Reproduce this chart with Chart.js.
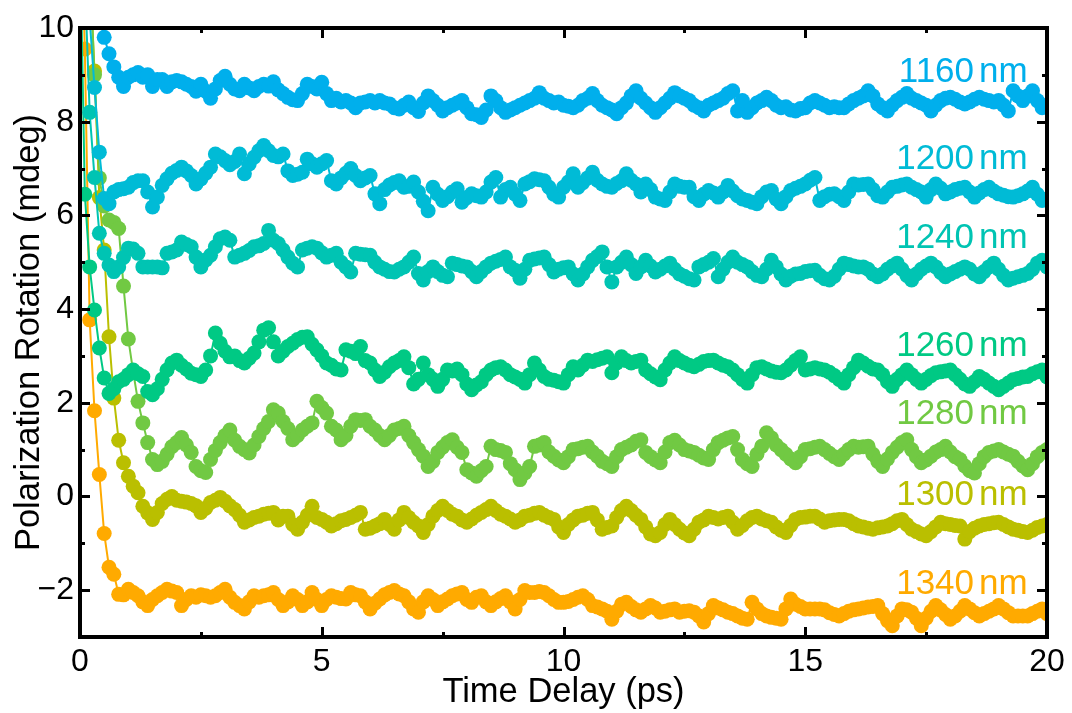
<!DOCTYPE html>
<html>
<head>
<meta charset="utf-8">
<script src="https://cdn.jsdelivr.net/npm/chart.js@4.4.1/dist/chart.umd.min.js"></script>
<style>
  html, body { margin: 0; padding: 0; background: #fff; }
  canvas { display: block; }
</style>
</head>
<body>
<canvas id="myChart" width="1072" height="713"></canvas>
<script>
// time delay in ps, one sample every 0.1 ps
const delay = [
  0, 0.1, 0.2, 0.3, 0.4, 0.5, 0.6, 0.7, 0.8, 0.9,
  1, 1.1, 1.2, 1.3, 1.4, 1.5, 1.6, 1.7, 1.8, 1.9,
  2, 2.1, 2.2, 2.3, 2.4, 2.5, 2.6, 2.7, 2.8, 2.9,
  3, 3.1, 3.2, 3.3, 3.4, 3.5, 3.6, 3.7, 3.8, 3.9,
  4, 4.1, 4.2, 4.3, 4.4, 4.5, 4.6, 4.7, 4.8, 4.9,
  5, 5.1, 5.2, 5.3, 5.4, 5.5, 5.6, 5.7, 5.8, 5.9,
  6, 6.1, 6.2, 6.3, 6.4, 6.5, 6.6, 6.7, 6.8, 6.9,
  7, 7.1, 7.2, 7.3, 7.4, 7.5, 7.6, 7.7, 7.8, 7.9,
  8, 8.1, 8.2, 8.3, 8.4, 8.5, 8.6, 8.7, 8.8, 8.9,
  9, 9.1, 9.2, 9.3, 9.4, 9.5, 9.6, 9.7, 9.8, 9.9,
  10, 10.1, 10.2, 10.3, 10.4, 10.5, 10.6, 10.7, 10.8, 10.9,
  11, 11.1, 11.2, 11.3, 11.4, 11.5, 11.6, 11.7, 11.8, 11.9,
  12, 12.1, 12.2, 12.3, 12.4, 12.5, 12.6, 12.7, 12.8, 12.9,
  13, 13.1, 13.2, 13.3, 13.4, 13.5, 13.6, 13.7, 13.8, 13.9,
  14, 14.1, 14.2, 14.3, 14.4, 14.5, 14.6, 14.7, 14.8, 14.9,
  15, 15.1, 15.2, 15.3, 15.4, 15.5, 15.6, 15.7, 15.8, 15.9,
  16, 16.1, 16.2, 16.3, 16.4, 16.5, 16.6, 16.7, 16.8, 16.9,
  17, 17.1, 17.2, 17.3, 17.4, 17.5, 17.6, 17.7, 17.8, 17.9,
  18, 18.1, 18.2, 18.3, 18.4, 18.5, 18.6, 18.7, 18.8, 18.9,
  19, 19.1, 19.2, 19.3, 19.4, 19.5, 19.6, 19.7, 19.8, 19.9,
  20
];

// polarization rotation (mdeg) per probe wavelength
const s1160 = [
  15, 13.2, 12, 11, 10.3, 9.8, 9.45, 9.17, 8.95, 8.75,
  8.95, 9.0, 9.05, 8.95, 9.0, 8.75, 8.9, 8.9, 8.75, 8.85,
  8.88, 8.85, 8.8, 8.75, 8.65, 8.8, 8.65, 8.5, 8.7, 8.88,
  8.97, 8.8, 8.7, 8.66, 8.8, 8.72, 8.66, 8.75, 8.8, 8.76,
  8.85, 8.68, 8.6, 8.52, 8.47, 8.45, 8.6, 8.8, 8.75, 8.7,
  8.84, 8.6, 8.45, 8.5, 8.42, 8.45, 8.4, 8.3, 8.4, 8.42,
  8.45, 8.4, 8.45, 8.4, 8.38, 8.3, 8.27, 8.35, 8.42, 8.3,
  8.22, 8.4, 8.55, 8.45, 8.35, 8.23, 8.3, 8.35, 8.4, 8.45,
  8.3, 8.17, 8.15, 8.09, 8.25, 8.55, 8.45, 8.3, 8.2, 8.25,
  8.3, 8.35, 8.4, 8.45, 8.5, 8.62, 8.5, 8.45, 8.4, 8.42,
  8.35, 8.33, 8.3, 8.35, 8.45, 8.5, 8.6, 8.45, 8.35, 8.3,
  8.25, 8.17, 8.3, 8.4, 8.55, 8.66, 8.5, 8.4, 8.3, 8.2,
  8.3, 8.4, 8.5, 8.62, 8.55, 8.5, 8.45, 8.35, 8.3, 8.23,
  8.35, 8.4, 8.45, 8.5, 8.6, 8.66, 8.23, 8.45, 8.2, 8.3,
  8.4, 8.45, 8.52, 8.45, 8.35, 8.3, 8.32, 8.25, 8.23, 8.28,
  8.3, 8.4, 8.45, 8.4, 8.35, 8.3, 8.32, 8.3, 8.3, 8.38,
  8.45, 8.5, 8.55, 8.66, 8.55, 8.38, 8.3, 8.23, 8.35, 8.45,
  8.52, 8.6, 8.5, 8.45, 8.4, 8.35, 8.23, 8.35, 8.45, 8.5,
  8.52, 8.48, 8.42, 8.38, 8.42, 8.48, 8.52, 8.48, 8.45, 8.42,
  8.45, 8.35, 8.23, 8.66, 8.55, 8.45, 8.55, 8.66, 8.45, 8.3,
  8.35
];
const s1200 = [
  14, 12, 10.2, 8.73, 7.35, 6.36, 6.25, 6.5, 6.55, 6.57,
  6.6, 6.7, 6.74, 6.74, 6.5, 6.18, 6.39, 6.64, 6.78, 6.9,
  6.96, 7.03, 6.95, 6.85, 6.67, 6.78, 6.9, 7.03, 7.31, 7.25,
  7.17, 7.08, 7.15, 7.31, 6.89, 7.1, 7.24, 7.38, 7.49, 7.38,
  7.28, 7.25, 7.31, 6.95, 6.85, 6.88, 6.92, 7.2, 7.1, 7.03,
  7.1, 7.17, 6.74, 6.67, 6.8, 6.9, 7.0, 6.85, 6.74, 6.8,
  6.85, 6.46, 6.25, 6.55, 6.65, 6.7, 6.74, 6.6, 6.62, 6.71,
  6.5, 6.3, 6.1, 6.6, 6.45, 6.32, 6.4, 6.5, 6.57, 6.28,
  6.38, 6.46, 6.42, 6.39, 6.5, 6.71, 6.81, 6.39, 6.55, 6.6,
  6.45, 6.32, 6.67, 6.72, 6.78, 6.76, 6.74, 6.6, 6.45, 6.39,
  6.6, 6.71, 6.89, 6.6, 6.7, 6.8, 6.92, 6.75, 6.67, 6.62,
  6.6, 6.68, 6.74, 6.89, 6.75, 6.67, 6.5, 6.67, 6.55, 6.39,
  6.35, 6.32, 6.5, 6.67, 6.62, 6.6, 6.6, 6.4, 6.32, 6.45,
  6.53, 6.48, 6.39, 6.5, 6.64, 6.52, 6.42, 6.35, 6.32, 6.28,
  6.25, 6.4, 6.5, 6.53, 6.35, 6.25, 6.4, 6.53, 6.58, 6.62,
  6.67, 6.75, 6.81, 6.32, 6.4, 6.45, 6.46, 6.4, 6.32, 6.5,
  6.67, 6.65, 6.66, 6.67, 6.55, 6.42, 6.39, 6.5, 6.6, 6.62,
  6.65, 6.67, 6.6, 6.55, 6.5, 6.39, 6.55, 6.67, 6.58, 6.46,
  6.5, 6.55, 6.58, 6.6, 6.5, 6.39, 6.48, 6.55, 6.6, 6.52,
  6.46, 6.43, 6.4, 6.39, 6.42, 6.46, 6.52, 6.6, 6.45, 6.32,
  6.35
];
const s1240 = [
  14, 11, 8.2, 6.81, 5.62, 5.19, 4.94, 4.8, 4.9, 5.1,
  5.3, 5.28, 5.19, 4.9, 4.9, 4.9, 4.9, 4.88, 5.19, 5.22,
  5.26, 5.43, 5.38, 5.33, 5.11, 4.9, 5.05, 5.15, 5.33, 5.5,
  5.54, 5.47, 5.11, 5.15, 5.19, 5.25, 5.33, 5.35, 5.4, 5.68,
  5.47, 5.4, 5.26, 5.11, 4.98, 4.9, 5.26, 5.3, 5.33, 5.3,
  5.2, 5.11, 5.15, 5.19, 5.0, 4.9, 4.79, 5.19, 5.17, 5.16,
  5.15, 5.0, 4.9, 4.85, 4.8, 4.79, 4.85, 4.9, 5.0, 5.11,
  4.76, 4.62, 4.8, 4.9, 4.8, 4.72, 4.69, 4.98, 4.95, 4.92,
  4.9, 4.8, 4.69, 4.8, 4.9, 4.98, 5.02, 5.06, 5.11, 4.9,
  4.83, 4.66, 4.85, 5.04, 5.07, 5.09, 5.11, 4.95, 4.79, 4.85,
  4.88, 4.9, 4.75, 4.62, 4.75, 4.9, 5.04, 5.12, 5.22, 4.9,
  4.58, 4.9, 5.0, 5.11, 4.95, 4.76, 4.9, 5.04, 4.92, 4.79,
  4.85, 4.92, 4.98, 4.85, 4.75, 4.7, 4.65, 4.62, 4.9, 4.95,
  5.0, 5.08, 4.69, 4.85, 5.0, 5.11, 5.0, 4.95, 4.9, 4.8,
  4.72, 4.69, 4.85, 5.04, 4.9, 4.75, 4.62, 4.7, 4.75, 4.76,
  4.8, 4.82, 4.83, 4.72, 4.65, 4.62, 4.7, 4.85, 4.98, 4.95,
  4.92, 4.9, 4.9, 4.85, 4.75, 4.69, 4.75, 4.85, 4.92, 4.98,
  4.85, 4.72, 4.62, 4.75, 4.85, 4.92, 4.98, 4.9, 4.78, 4.69,
  4.75, 4.8, 4.85, 4.9, 4.85, 4.75, 4.69, 4.8, 4.9, 4.98,
  4.85, 4.72, 4.62, 4.66, 4.69, 4.72, 4.76, 4.85, 4.98, 5.04,
  4.9
];
const s1260 = [
  12, 6.45, 4.9, 3.98, 3.17, 2.53, 2.2, 2.3, 2.45, 2.5,
  2.6, 2.7, 2.62, 2.56, 2.24, 2.17, 2.3, 2.5, 2.7, 2.85,
  2.91, 2.8, 2.72, 2.63, 2.6, 2.56, 2.7, 3.0, 3.49, 3.27,
  3.1, 2.98, 3.0, 2.9, 2.85, 2.95, 3.06, 3.3, 3.55, 3.6,
  3.3, 3.0, 3.1, 3.2, 3.27, 3.35, 3.4, 3.41, 3.25, 3.13,
  3.0, 2.85, 2.8, 2.72, 2.7, 3.13, 3.1, 3.05, 3.2, 2.9,
  2.85, 2.7, 2.56, 2.65, 2.77, 2.85, 2.9, 2.98, 2.75, 2.4,
  2.5, 2.85, 2.6, 2.5, 2.35, 2.5, 2.7, 2.68, 2.72, 2.6,
  2.4, 2.28, 2.38, 2.45, 2.6, 2.7, 2.75, 2.77, 2.7, 2.6,
  2.55, 2.5, 2.42, 2.6, 2.85, 2.7, 2.56, 2.5, 2.48, 2.45,
  2.42, 2.6, 2.77, 2.7, 2.8, 2.91, 2.88, 2.92, 2.95, 2.98,
  2.64, 2.85, 2.98, 2.9, 2.85, 2.88, 2.91, 2.7, 2.62, 2.55,
  2.49, 2.7, 2.85, 2.98, 2.9, 2.85, 2.8, 2.77, 2.82, 2.88,
  2.9, 2.91, 2.85, 2.8, 2.77, 2.7, 2.6, 2.5, 2.42, 2.6,
  2.75, 2.77, 2.72, 2.68, 2.65, 2.64, 2.7, 2.8, 2.9, 2.98,
  2.7, 2.72, 2.75, 2.72, 2.7, 2.65, 2.58, 2.5, 2.42, 2.6,
  2.75, 2.91, 2.85, 2.78, 2.72, 2.7, 2.6, 2.45, 2.35, 2.5,
  2.6, 2.7, 2.6, 2.5, 2.42, 2.5, 2.58, 2.64, 2.66, 2.68,
  2.7, 2.6, 2.5, 2.4, 2.35, 2.45, 2.56, 2.5, 2.42, 2.35,
  2.28, 2.35, 2.42, 2.49, 2.52, 2.55, 2.56, 2.62, 2.66, 2.7,
  2.55
];
const s1280 = [
  16, 14, 11.5, 9.0, 6.8, 6.2, 5.9, 5.85, 5.72, 4.49,
  3.36, 2.66, 2.03, 1.57, 1.15, 0.79, 0.68, 0.75, 0.9, 1.06,
  1.15, 1.26, 1.1, 0.94, 0.64, 0.55, 0.51, 0.79, 0.98, 1.15,
  1.3, 1.42, 1.2, 1.07, 1.0, 0.93, 1.1, 1.28, 1.45, 1.6,
  1.85, 1.78, 1.6, 1.45, 1.21, 1.3, 1.42, 1.5, 1.57, 2.03,
  1.9, 1.78, 1.5, 1.42, 1.21, 1.3, 1.5, 1.64, 1.62, 1.64,
  1.5, 1.42, 1.3, 1.21, 1.3, 1.42, 1.45, 1.5, 1.3, 1.15,
  1.0, 0.86, 0.64, 0.75, 0.94, 1.05, 1.15, 1.21, 1.05, 0.94,
  0.57, 0.5, 0.43, 0.55, 0.64, 1.07, 1.0, 0.98, 0.94, 0.7,
  0.57, 0.36, 0.5, 0.64, 1.07, 1.1, 1.15, 0.95, 0.86, 0.78,
  0.72, 0.85, 1.0, 1.02, 1.05, 1.07, 0.95, 0.86, 0.75, 0.7,
  0.64, 0.85, 1.0, 1.05, 1.1, 1.18, 1.21, 0.94, 0.85, 0.78,
  0.72, 0.95, 1.15, 1.2, 1.1, 1.0, 0.97, 0.94, 0.88, 0.82,
  0.79, 1.0, 1.15, 1.2, 1.25, 1.28, 1.0, 0.79, 0.7, 0.64,
  0.9, 1.07, 1.36, 1.25, 1.1, 1.0, 0.9, 0.8, 0.72, 0.85,
  1.0, 1.02, 1.05, 1.07, 1.0, 0.92, 0.85, 0.79, 0.9, 1.0,
  1.07, 1.05, 1.06, 1.07, 0.9, 0.75, 0.64, 0.8, 0.94, 1.05,
  1.15, 1.21, 1.0, 0.85, 0.72, 0.78, 0.86, 0.95, 1.0, 1.07,
  0.95, 0.85, 0.79, 0.65, 0.55, 0.5, 0.7, 0.85, 0.94, 0.97,
  1.0, 0.95, 0.9, 0.86, 0.75, 0.65, 0.57, 0.7, 0.85, 0.94,
  1.0
];
const s1300 = [
  16, 13.5, 11.2, 9.08, 6.38, 5.26, 3.41, 2.1, 1.2, 0.72,
  0.43, 0.22, 0.08, -0.21, -0.35, -0.49, -0.34, -0.15, -0.06, 0.0,
  -0.08, -0.1, -0.12, -0.15, -0.2, -0.34, -0.25, -0.13, -0.08, -0.02,
  -0.1, -0.2, -0.28, -0.4, -0.55, -0.5, -0.45, -0.42, -0.38, -0.36,
  -0.34, -0.5, -0.42, -0.42, -0.6, -0.7, -0.55, -0.4, -0.21, -0.45,
  -0.49, -0.55, -0.63, -0.58, -0.52, -0.49, -0.45, -0.4, -0.34, -0.7,
  -0.68, -0.63, -0.58, -0.49, -0.6, -0.7, -0.5, -0.34, -0.45, -0.55,
  -0.63, -0.77, -0.6, -0.42, -0.3, -0.21, -0.3, -0.38, -0.42, -0.5,
  -0.55, -0.48, -0.4, -0.34, -0.28, -0.21, -0.3, -0.38, -0.42, -0.48,
  -0.55, -0.5, -0.42, -0.4, -0.36, -0.34, -0.4, -0.45, -0.49, -0.65,
  -0.77, -0.6, -0.5, -0.42, -0.4, -0.36, -0.34, -0.5, -0.7, -0.66,
  -0.63, -0.45, -0.3, -0.21, -0.3, -0.4, -0.49, -0.65, -0.8, -0.84,
  -0.77, -0.6, -0.49, -0.6, -0.7, -0.78, -0.84, -0.7, -0.55, -0.5,
  -0.42, -0.45, -0.48, -0.45, -0.42, -0.55, -0.7, -0.62, -0.52, -0.45,
  -0.42, -0.48, -0.52, -0.55, -0.65, -0.72, -0.77, -0.62, -0.49, -0.45,
  -0.44, -0.42, -0.42, -0.48, -0.55, -0.52, -0.5, -0.49, -0.49, -0.52,
  -0.58, -0.63, -0.65, -0.68, -0.7, -0.67, -0.65, -0.63, -0.58, -0.52,
  -0.49, -0.6, -0.7, -0.75, -0.8, -0.84, -0.75, -0.65, -0.55, -0.58,
  -0.6, -0.62, -0.63, -0.91, -0.75, -0.68, -0.63, -0.6, -0.58, -0.56,
  -0.55, -0.6, -0.65, -0.7, -0.72, -0.75, -0.77, -0.72, -0.66, -0.63,
  -0.6
];
const s1340 = [
  13, 9.55, 3.77, 1.83, 0.47, -0.79, -1.51, -1.66, -2.09, -2.1,
  -1.98, -2.05, -2.12, -2.25, -2.33, -2.2, -2.12, -2.05, -1.98, -2.02,
  -2.05, -2.33, -2.2, -2.12, -2.15, -2.1, -2.12, -2.15, -2.12, -2.05,
  -1.98, -2.15, -2.26, -2.33, -2.4, -2.25, -2.12, -2.15, -2.12, -2.1,
  -2.05, -2.2, -2.33, -2.25, -2.12, -2.2, -2.33, -2.25, -2.05, -2.2,
  -2.33, -2.2, -2.12, -2.15, -2.18, -2.19, -2.05, -2.1, -2.12, -2.25,
  -2.4, -2.28, -2.19, -2.1, -2.05, -2.01, -2.08, -2.12, -2.25, -2.4,
  -2.47, -2.25, -2.12, -2.2, -2.33, -2.25, -2.19, -2.12, -2.08, -2.05,
  -2.2, -2.26, -2.15, -2.12, -2.25, -2.33, -2.25, -2.18, -2.12, -2.25,
  -2.4, -2.2, -2.01, -2.05, -2.05, -2.03, -2.05, -2.12, -2.2, -2.26,
  -2.26, -2.24, -2.2, -2.15, -2.12, -2.2, -2.33, -2.36, -2.4, -2.45,
  -2.62, -2.45, -2.3, -2.26, -2.35, -2.42, -2.47, -2.4, -2.33, -2.38,
  -2.47, -2.45, -2.42, -2.4, -2.47, -2.45, -2.44, -2.47, -2.55, -2.68,
  -2.5, -2.33, -2.38, -2.42, -2.47, -2.5, -2.55, -2.6, -2.62, -2.26,
  -2.4, -2.5, -2.55, -2.58, -2.6, -2.62, -2.4, -2.19, -2.3, -2.35,
  -2.4, -2.4, -2.4, -2.4, -2.42, -2.48, -2.52, -2.55, -2.5, -2.45,
  -2.42, -2.4, -2.38, -2.36, -2.35, -2.33, -2.5, -2.65, -2.76, -2.55,
  -2.4, -2.42, -2.47, -2.6, -2.76, -2.6, -2.45, -2.33, -2.42, -2.52,
  -2.62, -2.55, -2.45, -2.33, -2.4, -2.48, -2.55, -2.5, -2.45, -2.4,
  -2.33, -2.4, -2.48, -2.55, -2.55, -2.55, -2.55, -2.5, -2.45, -2.4,
  -2.5
];

const wavelengths = ['1160', '1200', '1240', '1260', '1280', '1300', '1340'];
const colours = ['#00AFEC', '#00BBD6', '#00C4B3', '#00C984', '#71C943', '#BABF00', '#FFAA00'];
// where each "xxxx nm" tag sits (right edge in ps, centre in mdeg)
const tagX = 19.6;
const tagY = [9.05, 7.2, 5.5, 3.2, 1.75, 0.03, -1.88];

const xTicks = [0, 5, 10, 15, 20];
const xMinor = [2.5, 7.5, 12.5, 17.5];
const yTicks = [-2, 0, 2, 4, 6, 8, 10];
const yMinor = [-1, 1, 3, 5, 7, 9];

const series = [s1160, s1200, s1240, s1260, s1280, s1300, s1340];
const FONT = '"Liberation Sans", Arial, Helvetica, sans-serif';

const datasets = series.map((vals, i) => ({
  label: wavelengths[i] + ' nm',
  data: vals.map((v, k) => ({ x: delay[k], y: v })),
  showLine: true,
  borderColor: colours[i],
  backgroundColor: colours[i],
  borderWidth: 2,
  pointRadius: 7.5,
  pointBorderWidth: 0
}));

// box around the plot with inward ticks on all four sides
const frame = {
  id: 'frame',
  afterDatasetsDraw(chart) {
    const { ctx, chartArea: a, scales: { x, y } } = chart;
    ctx.save();
    ctx.strokeStyle = '#000';
    ctx.lineWidth = 3;
    const tick = (vals, len, horiz) => {
      vals.forEach(v => {
        ctx.beginPath();
        if (horiz) {
          const px = Math.round(x.getPixelForValue(v)) + 0.5;
          ctx.moveTo(px, a.bottom); ctx.lineTo(px, a.bottom - len);
          ctx.moveTo(px, a.top); ctx.lineTo(px, a.top + len);
        } else {
          const py = Math.round(y.getPixelForValue(v)) + 0.5;
          ctx.moveTo(a.left, py); ctx.lineTo(a.left + len, py);
          ctx.moveTo(a.right, py); ctx.lineTo(a.right - len, py);
        }
        ctx.stroke();
      });
    };
    tick(xTicks, 10, true);
    tick(xMinor, 5, true);
    tick(yTicks, 10, false);
    tick(yMinor, 5, false);
    ctx.lineWidth = 4;
    ctx.strokeRect(a.left, a.top, a.right - a.left, a.bottom - a.top);
    ctx.restore();
  }
};

const tags = {
  id: 'tags',
  afterDatasetsDraw(chart) {
    const { ctx, scales: { x, y } } = chart;
    ctx.save();
    ctx.font = '35px ' + FONT;
    ctx.textBaseline = 'middle';
    ctx.textAlign = 'right';
    const unitW = ctx.measureText('nm').width;
    wavelengths.forEach((w, i) => {
      const right = x.getPixelForValue(tagX);
      const py = y.getPixelForValue(tagY[i]);
      ctx.fillStyle = colours[i];
      ctx.fillText('nm', right, py);
      ctx.fillText(w, right - unitW - 5, py);
    });
    ctx.restore();
  }
};

const ctx = document.getElementById('myChart');
new Chart(ctx, {
  type: 'scatter',
  data: { datasets },
  options: {
    responsive: false,
    animation: false,
    events: [],
    layout: { padding: { top: 28, right: 25, left: 0, bottom: 0 } },
    plugins: { legend: { display: false }, tooltip: { enabled: false } },
    scales: {
      x: {
        type: 'linear',
        min: 0,
        max: 20,
        grid: { display: false, drawTicks: false },
        border: { display: false },
        afterBuildTicks: s => { s.ticks = xTicks.map(v => ({ value: v })); },
        afterFit: s => { s.height = 76; },
        ticks: { color: '#000', padding: 6, maxRotation: 0, font: { family: FONT, size: 32 } },
        title: {
          display: true,
          text: 'Time Delay (ps)',
          color: '#000',
          padding: { top: 0, bottom: 0 },
          font: { family: FONT, size: 34.5 }
        }
      },
      y: {
        type: 'linear',
        min: -3,
        max: 10,
        grid: { display: false, drawTicks: false },
        border: { display: false },
        afterBuildTicks: s => { s.ticks = yTicks.map(v => ({ value: v })); },
        afterFit: s => { s.width = 80; },
        ticks: {
          color: '#000',
          padding: 6,
          font: { family: FONT, size: 32 },
          callback: v => (v < 0 ? '\u2212' + Math.abs(v) : String(v))
        },
        title: {
          display: true,
          text: 'Polarization Rotation (mdeg)',
          color: '#000',
          padding: { top: 9, bottom: 0 },
          font: { family: FONT, size: 34.5 }
        }
      }
    }
  },
  plugins: [frame, tags]
});
</script>
</body>
</html>
